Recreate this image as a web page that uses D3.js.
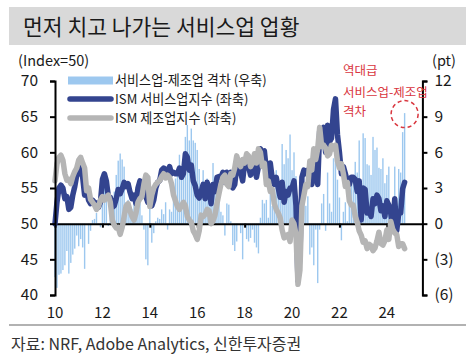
<!DOCTYPE html>
<html><head><meta charset="utf-8">
<script src="https://cdn.jsdelivr.net/npm/d3@7"></script>
<style>
html,body{margin:0;padding:0;background:#fff;}
svg{display:block;font-family:'Noto Sans CJK KR','Noto Sans',sans-serif;}
</style></head>
<body><svg id="c" width="475" height="360"></svg>
<script>
const startYear = 2010;
const xTickYears = [2010,2012,2014,2016,2018,2020,2022,2024];
const xTickLabels = ["10","12","14","16","18","20","22","24"];
const leftTicks = [40,45,50,55,60,65,70];
const rightTicks = [-6,-3,0,3,6,9,12];
const rightTickLabels = ["(6)","(3)","0","3","6","9","12"];
const legendLabels = ["서비스업-제조업 격차 (우축)","ISM 서비스업지수 (좌축)","ISM 제조업지수 (좌축)"];
const noteLines = ["역대급","서비스업-제조업","격차"];

// ISM services index, monthly Jan 2010 - Oct 2024
const services = [
50.0,53.0,55.0,55.4,55.0,53.5,53.8,52.0,52.3,54.0,55.2,56.8,
57.0,58.0,56.5,54.0,54.6,53.3,52.8,53.3,53.0,52.9,52.3,53.0,
56.2,57.0,56.0,53.8,53.7,52.3,52.5,53.5,54.8,54.2,54.9,55.8,
55.2,55.6,54.4,53.5,54.0,52.8,55.0,56.0,54.5,55.0,53.8,53.0,
53.5,52.5,53.3,55.0,55.8,56.0,57.5,57.8,57.6,57.2,58.0,57.0,
57.2,57.0,57.0,57.8,56.5,57.0,59.8,59.3,57.5,58.2,56.0,55.3,
54.0,53.6,54.5,55.5,53.5,55.8,55.0,52.8,55.5,54.5,56.5,56.6,
56.5,57.2,55.8,57.2,56.8,57.2,55.0,55.5,58.0,58.5,57.2,56.0,
58.5,58.5,58.0,56.8,58.0,58.2,56.5,58.0,60.5,60.0,60.2,57.5,
56.5,58.5,56.3,55.5,56.5,55.0,53.7,55.8,53.0,54.5,54.0,55.0,
55.0,56.0,52.5,42.0,45.5,56.5,57.5,57.0,57.5,56.2,55.5,57.0,
58.5,55.5,63.0,62.5,63.5,60.0,63.8,61.5,62.0,66.0,67.5,62.5,
60.0,57.0,58.0,57.0,56.0,55.5,56.5,56.5,56.2,54.5,56.0,50.5,
55.0,54.8,51.5,52.0,51.0,53.5,52.8,54.0,53.5,51.8,52.5,51.0,
53.2,52.6,51.4,49.4,53.5,49.0,51.4,51.5,54.9,55.8];

// ISM manufacturing index
const manufacturing = [
56.0,58.4,59.3,59.6,58.9,57.0,56.1,56.2,55.6,56.6,57.3,57.8,
58.9,59.3,58.5,57.8,54.6,55.0,53.4,53.0,52.6,52.0,52.4,53.3,
53.8,53.3,53.7,54.0,53.0,50.5,49.8,49.4,49.5,48.5,49.5,51.0,
52.5,52.8,51.8,51.0,50.5,51.5,53.0,53.5,53.8,55.5,56.8,56.5,
52.4,54.0,55.0,55.5,55.8,56.0,56.6,57.0,56.4,56.8,56.5,55.6,
54.0,53.2,52.4,52.0,52.5,53.0,52.5,51.0,50.5,50.2,49.0,48.5,
47.8,49.0,51.2,51.0,51.3,52.0,51.8,50.0,50.4,51.2,52.8,54.2,
55.5,56.5,56.8,55.5,55.2,57.0,56.8,57.8,59.5,58.5,58.0,59.0,
58.5,59.8,59.5,58.0,58.5,59.8,58.5,60.5,60.0,58.0,58.5,55.5,
56.0,54.5,54.8,52.8,52.0,51.5,50.8,49.1,48.0,48.3,48.5,47.5,
50.5,50.0,48.5,41.5,43.5,52.5,54.0,55.5,55.2,58.8,57.5,60.5,
59.0,60.5,63.5,60.8,61.0,60.6,59.5,59.8,61.0,60.5,61.0,58.8,
57.8,58.4,57.0,55.2,55.8,53.2,52.6,52.6,51.0,50.2,49.0,48.4,
47.4,47.6,46.5,47.1,46.9,46.2,46.6,47.6,48.8,47.2,47.0,47.6,
49.1,47.8,50.3,49.2,48.7,48.5,46.8,47.2,47.2,46.5];

// services - manufacturing gap (pt, right axis)
const gap = [
-4.5,-5.4,-4.3,-4.2,-3.9,-3.5,-2.3,-4.2,-3.3,-2.6,-2.1,-1.0,
-1.9,-1.3,-2.0,-3.8,0.0,-1.7,-0.6,0.3,0.4,0.9,-0.1,-0.3,
2.4,3.7,2.3,-0.2,0.7,1.8,2.7,4.1,5.3,5.9,5.4,4.8,
1.8,2.0,1.5,1.2,2.5,1.3,2.0,2.5,0.7,-0.5,-3.0,-3.5,
1.5,-1.6,-0.8,0.2,0.5,0.4,1.2,0.8,1.8,-0.5,1.2,1.0,
3.2,3.8,4.6,5.8,4.0,4.0,7.3,8.3,7.0,8.0,7.0,6.8,
6.2,4.6,3.3,4.5,2.2,3.8,3.2,2.8,5.1,3.3,3.7,2.4,
1.0,0.7,-1.0,1.7,1.6,0.2,-1.8,-2.3,-1.5,0.0,-0.8,-3.0,
0.0,-1.3,-1.5,-1.2,-0.5,-1.6,-2.0,-2.5,0.5,2.0,1.7,2.0,
0.5,4.0,1.5,2.7,4.5,3.5,2.9,6.7,5.0,6.2,5.5,7.5,
4.5,6.0,4.0,0.5,2.0,4.0,3.5,1.5,2.3,-2.6,-2.0,-3.5,
-0.5,-5.0,-0.5,1.7,2.5,-0.6,4.3,1.7,1.0,5.5,6.5,3.7,
2.2,-1.4,1.0,1.8,0.2,2.3,3.9,3.9,5.2,4.3,7.0,2.1,
7.6,7.2,5.0,4.9,4.1,7.3,6.2,6.4,4.7,4.6,5.5,3.4,
4.1,4.8,1.1,0.2,4.8,0.5,4.6,4.3,7.7,9.3];

const svg = d3.select("#c");
const FONT = "'Noto Sans CJK KR','Noto Sans',sans-serif";
const C_BAR = "#9dc8ef", C_NAVY = "#33448f", C_GREY = "#b5b5b5", C_RED = "#d9363e";

const x = d3.scaleLinear().domain([2010, 2025.5]).range([55, 422.4]);
const yL = d3.scaleLinear().domain([40, 70]).range([295, 81]);
const yR = d3.scaleLinear().domain([-6, 12]).range([295, 81]);
const t = i => startYear + i / 12;

// title bar
svg.append("rect").attr("x", 9).attr("y", 7).attr("width", 457).attr("height", 38).attr("fill", "#d9d9d9");
svg.append("text").attr("x", 23).attr("y", 34.5).attr("font-size", 21.5).attr("fill", "#1a1a1a")
  .text("먼저 치고 나가는 서비스업 업황");

// bars
svg.append("g").selectAll("rect").data(gap).join("rect")
  .attr("x", (d, i) => x(t(i)) - 0.7)
  .attr("width", 1.4)
  .attr("y", d => Math.min(yR(d), yR(0)))
  .attr("height", d => Math.abs(yR(d) - yR(0)))
  .attr("fill", C_BAR);

// x axis line at 50
const xAxis = svg.append("g").attr("transform", `translate(0,${yL(50)})`)
  .call(d3.axisBottom(x).tickValues(xTickYears).tickSize(4).tickSizeOuter(0).tickFormat(""));
xAxis.select(".domain").attr("stroke", "#000").attr("stroke-width", 2);
xAxis.selectAll(".tick line").attr("stroke", "#000").attr("stroke-width", 2);

svg.append("g").selectAll("text").data(xTickYears).join("text")
  .attr("x", d => x(d)).attr("y", 318).attr("text-anchor", "middle")
  .attr("font-size", 15).attr("fill", "#1a1a1a")
  .text((d, i) => xTickLabels[i]);

// lines
const lineS = d3.line().x((d, i) => x(t(i))).y(d => yL(d));
svg.append("path").datum(services).attr("d", lineS).attr("fill", "none")
  .attr("stroke", C_NAVY).attr("stroke-width", 5.5).attr("stroke-linejoin", "round").attr("stroke-linecap", "round");
svg.append("path").datum(manufacturing).attr("d", lineS).attr("fill", "none")
  .attr("stroke", C_GREY).attr("stroke-width", 5.5).attr("stroke-linejoin", "round").attr("stroke-linecap", "round");

// left axis
const la = svg.append("g").attr("transform", "translate(55,0)")
  .call(d3.axisLeft(yL).tickValues(leftTicks).tickSize(5).tickSizeOuter(5).tickPadding(12));
la.select(".domain").attr("stroke", "#000").attr("stroke-width", 2);
la.selectAll(".tick line").attr("stroke", "#000").attr("stroke-width", 2);
la.selectAll(".tick text").attr("font-size", 15.5).attr("fill", "#1a1a1a").attr("font-family", FONT);

// right axis
const ra = svg.append("g").attr("transform", `translate(${x(2025.5)},0)`)
  .call(d3.axisRight(yR).tickValues(rightTicks).tickSize(5).tickSizeOuter(5).tickPadding(7)
    .tickFormat((d, i) => rightTickLabels[i]));
ra.select(".domain").attr("stroke", "#000").attr("stroke-width", 2);
ra.selectAll(".tick line").attr("stroke", "#000").attr("stroke-width", 2);
ra.selectAll(".tick text").attr("font-size", 15.5).attr("fill", "#1a1a1a").attr("font-family", FONT);

// axis units
svg.append("text").attr("x", 18).attr("y", 66).attr("font-size", 14.5).attr("fill", "#1a1a1a").text("(Index=50)");
svg.append("text").attr("x", 432).attr("y", 66).attr("font-size", 14.5).attr("fill", "#1a1a1a").text("(pt)");

// legend
const rowY = [84.5, 103.5, 122.5];
const lg = svg.append("g");
lg.append("rect").attr("x", 68).attr("y", rowY[0] - 8).attr("width", 45).attr("height", 8).attr("fill", C_BAR);
lg.append("line").attr("x1", 70).attr("x2", 111).attr("y1", rowY[1] - 4.5).attr("y2", rowY[1] - 4.5)
  .attr("stroke", C_NAVY).attr("stroke-width", 5.5).attr("stroke-linecap", "round");
lg.append("line").attr("x1", 70).attr("x2", 111).attr("y1", rowY[2] - 4.5).attr("y2", rowY[2] - 4.5)
  .attr("stroke", C_GREY).attr("stroke-width", 5.5).attr("stroke-linecap", "round");
lg.selectAll("text").data(legendLabels).join("text")
  .attr("x", 115).attr("y", (d, i) => rowY[i]).attr("font-size", 13.1).attr("fill", "#1a1a1a")
  .text(d => d);

// annotation
svg.append("g").selectAll("text").data(noteLines).join("text")
  .attr("x", 343).attr("y", (d, i) => [75, 97, 115.5][i]).attr("font-size", 12.5).attr("fill", C_RED)
  .text(d => d);
svg.append("circle").attr("cx", x(t(gap.length - 1))).attr("cy", yR(gap[gap.length - 1]) + 1).attr("r", 13.5)
  .attr("fill", "none").attr("stroke", C_RED).attr("stroke-width", 1.5).attr("stroke-dasharray", "4,3");

// footer
svg.append("line").attr("x1", 9).attr("x2", 466).attr("y1", 325).attr("y2", 325)
  .attr("stroke", "#999").attr("stroke-width", 1.5);
svg.append("text").attr("x", 11).attr("y", 349.5).attr("font-size", 16).attr("fill", "#333")
  .text("자료: NRF, Adobe Analytics, 신한투자증권");
</script></body></html>
